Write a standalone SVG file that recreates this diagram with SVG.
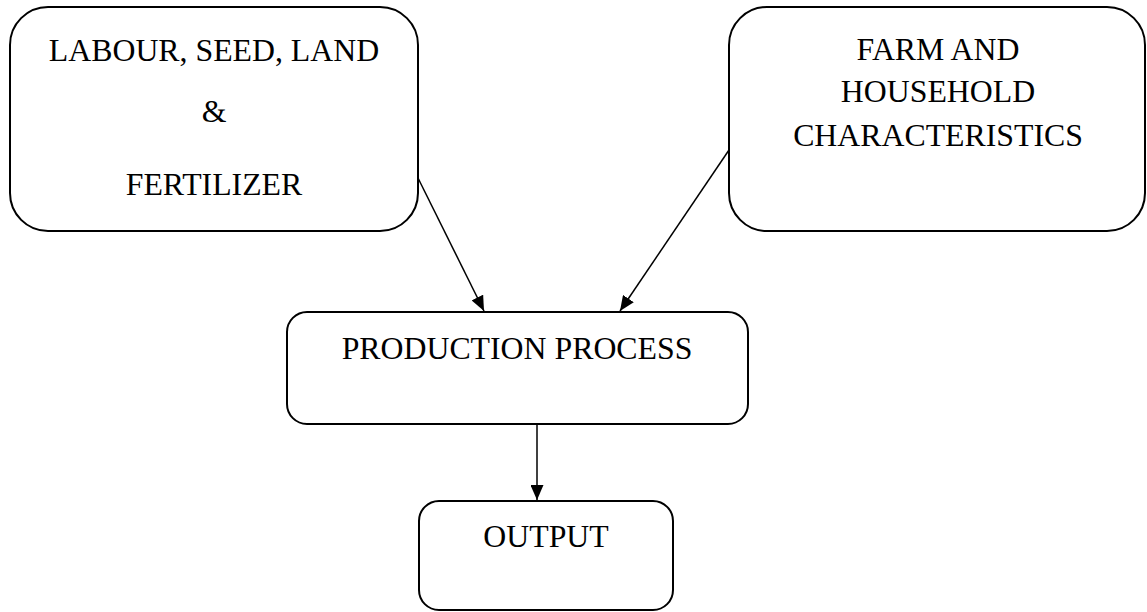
<svg xmlns="http://www.w3.org/2000/svg" width="1147" height="612" viewBox="0 0 1147 612">
<style>
.box{fill:#fff;stroke:#000;stroke-width:2}
.t{font-family:"Liberation Serif","Times New Roman",serif;font-size:31.8px;fill:#000;text-anchor:middle}
.c{stroke:#000;stroke-width:1.5;fill:none}
</style>
<defs>
<marker id="ah" markerWidth="15" markerHeight="13" refX="15" refY="6.5" orient="auto" markerUnits="userSpaceOnUse" viewBox="0 0 15 13">
<path d="M0,0 L15,6.5 L0,13 Z" fill="#000"/>
</marker>
</defs>
<rect width="1147" height="612" fill="#fff"/>
<g id="connectors">
<line class="c" x1="418" y1="178" x2="484" y2="311" marker-end="url(#ah)"/>
<line class="c" x1="729" y1="150" x2="620" y2="311" marker-end="url(#ah)"/>
<line class="c" x1="537" y1="424" x2="537" y2="500" marker-end="url(#ah)"/>
</g>
<g id="node-inputs">
<rect class="box" x="10" y="7" width="408" height="224" rx="38" ry="38"/>
<text class="t" x="214" y="61">LABOUR, SEED, LAND</text>
<text class="t" x="214" y="122">&amp;</text>
<text class="t" x="214" y="195">FERTILIZER</text>
</g>
<g id="node-farm">
<rect class="box" x="729" y="7" width="416" height="224" rx="38" ry="38"/>
<text class="t" x="938" y="60">FARM AND</text>
<text class="t" x="938" y="102">HOUSEHOLD</text>
<text class="t" x="938" y="146">CHARACTERISTICS</text>
</g>
<g id="node-production">
<rect class="box" x="287" y="312" width="461" height="112" rx="20" ry="20"/>
<text class="t" x="517" y="359">PRODUCTION PROCESS</text>
</g>
<g id="node-output">
<rect class="box" x="419" y="501" width="254" height="109" rx="20" ry="20"/>
<text class="t" x="546" y="547">OUTPUT</text>
</g>
</svg>
